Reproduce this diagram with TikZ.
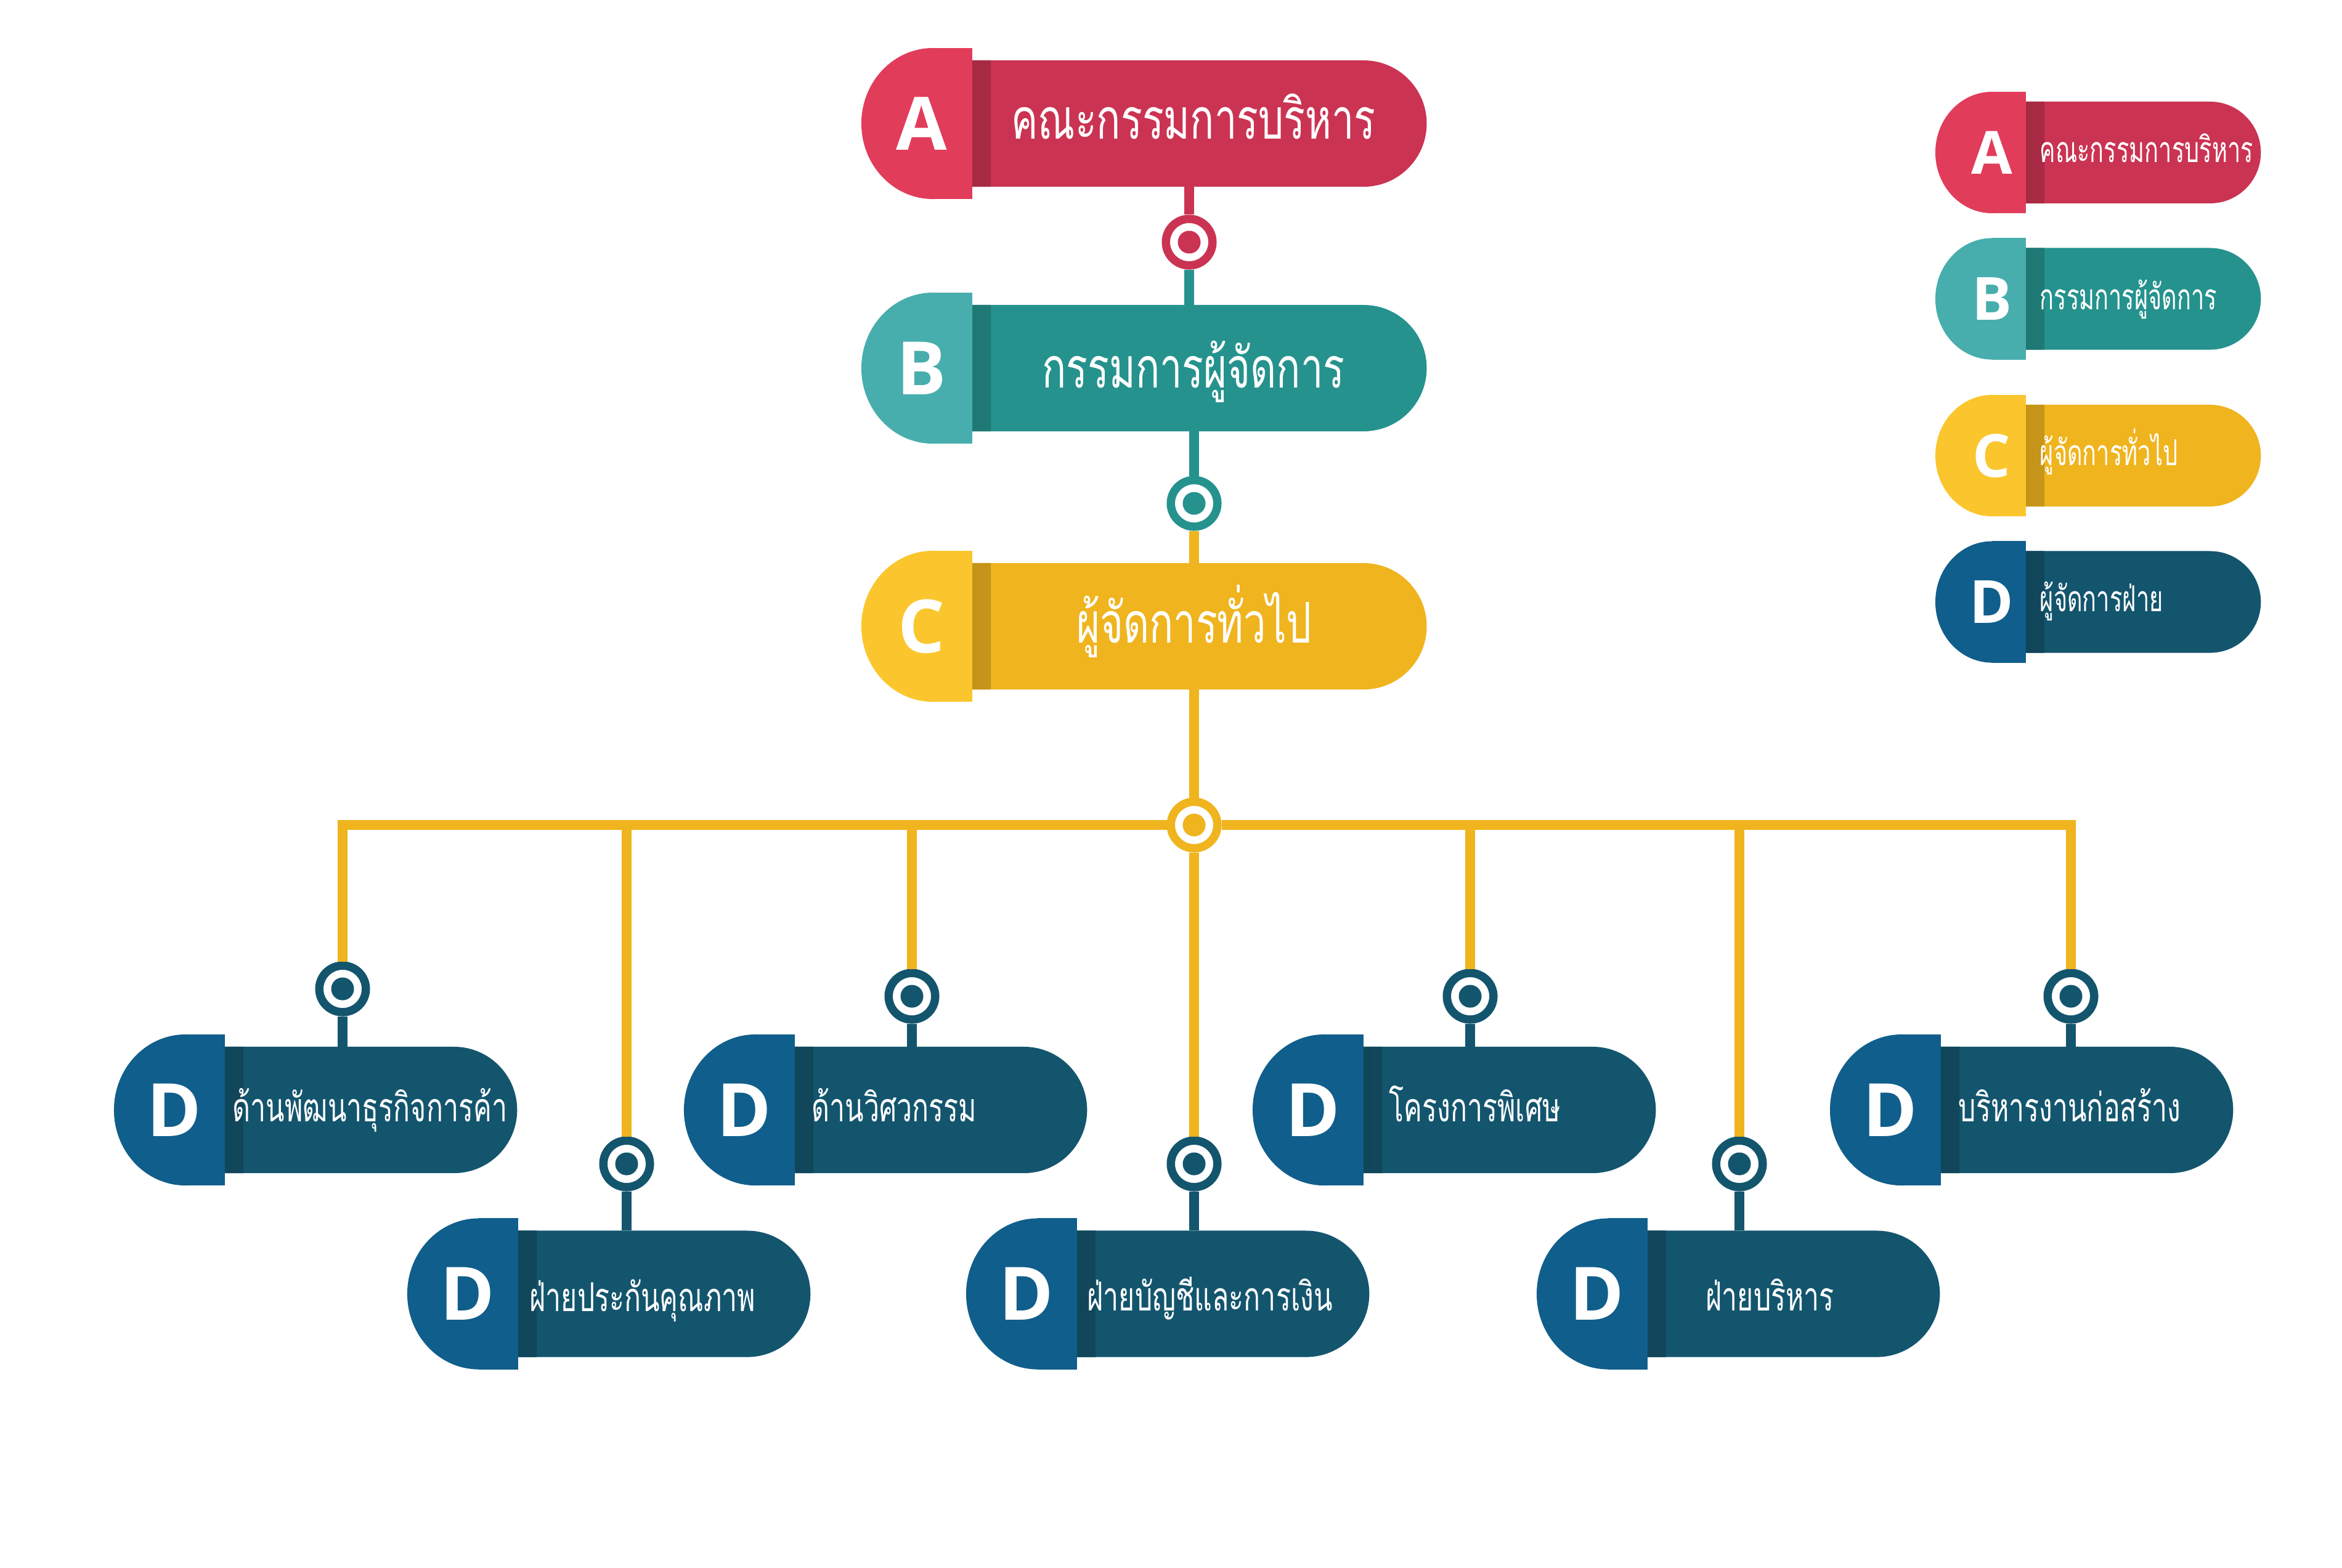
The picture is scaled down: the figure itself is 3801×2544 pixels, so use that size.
\documentclass[tikz,border=0pt]{standalone}
\usepackage{fontspec}
\newfontfamily\thaifont[Script=Thai,FakeStretch=0.71]{Loma}
\newfontfamily\unitfont[Script=Thai,FakeStretch=0.69]{Loma}
\newfontfamily\keyfont[Script=Thai,FakeStretch=0.655]{Loma}
\newfontfamily\capfont{Open Sans}
\usepackage{tikz}
\usetikzlibrary{positioning,shapes.misc}

\definecolor{acap}{HTML}{E23C5B}
\definecolor{abody}{HTML}{CB3352}
\definecolor{bcap}{HTML}{47AEAD}
\definecolor{bbody}{HTML}{25928D}
\definecolor{ccap}{HTML}{FBC62D}
\definecolor{cbody}{HTML}{EFB41E}
\definecolor{dcap}{HTML}{105E8B}
\definecolor{dbody}{HTML}{14556E}

\tikzset{
  cap/.style={rectangle, inner sep=0pt, outer sep=0pt,
    minimum width=1.8cm, minimum height=2.45cm,
    path picture={\fill[#1] ([xshift=1.16cm]path picture bounding box.west)
      ellipse [x radius=1.16cm, y radius=1.225cm];
      \fill[#1] ([xshift=1.16cm]path picture bounding box.south west)
      rectangle (path picture bounding box.north east);}},
  keycap/.style={rectangle, inner sep=0pt, outer sep=0pt,
    minimum width=1.47cm, minimum height=1.97cm,
    path picture={\fill[#1] ([xshift=0.92cm]path picture bounding box.west)
      ellipse [x radius=0.92cm, y radius=0.985cm];
      \fill[#1] ([xshift=0.92cm]path picture bounding box.south west)
      rectangle (path picture bounding box.north east);}},
  capletter/.style={text=white, inner sep=0pt, xshift=0.08cm,
    font=\capfont\bfseries\fontsize{34pt}{34pt}\selectfont},
  keyletter/.style={capletter, xshift=0.1cm,
    font=\capfont\bfseries\fontsize{27.5pt}{27.5pt}\selectfont},
  unit/.style={rounded rectangle, rounded rectangle left arc=none, fill=#1,
    inner sep=0pt, outer sep=0pt, minimum width=4.74cm, minimum height=2.05cm,
    path picture={\shade[left color=#1!82!black, right color=#1]
      (path picture bounding box.south west) rectangle
      ([xshift=0.3cm]path picture bounding box.north west);}},
  bigunit/.style={unit=#1, minimum width=7.37cm},
  keyunit/.style={unit=#1, minimum width=3.81cm, minimum height=1.65cm},
  ring/.style={circle, draw=#1, fill=white, line width=0.135cm,
    minimum size=0.755cm, inner sep=0pt, outer sep=0.0675cm,
    path picture={\fill[#1] (path picture bounding box.center) circle (0.185cm);}},
  link/.style={draw=#1, line width=0.16cm},
  bigtext/.style={anchor=base, text=white, inner sep=0pt,
    font=\thaifont\fontsize{26pt}{26pt}\selectfont},
  unittext/.style={anchor=base west, text=white, inner sep=0pt,
    font=\unitfont\fontsize{18.4pt}{18.4pt}\selectfont},
  keytext/.style={anchor=base west, text=white, inner sep=0pt,
    font=\keyfont\fontsize{16.5pt}{16.5pt}\selectfont},
}

\begin{document}
\begin{tikzpicture}[x=0.01cm,y=-0.01cm]
\useasboundingbox (0,0) rectangle (3801,2544);
% top of the chart
\node[cap=acap, label={[capletter]center:A}] (board-cap) at (1488,200.5) {};
\node[bigunit=abody, right=0pt of board-cap] (board) {};
\node[cap=bcap, label={[capletter]center:B}] (md-cap) at (1488,597.5) {};
\node[bigunit=bbody, right=0pt of md-cap] (md) {};
\node[cap=ccap, label={[capletter]center:C}] (gm-cap) at (1488,1016.5) {};
\node[bigunit=cbody, right=0pt of gm-cap] (gm) {};
\node[bigtext] (board-text) at (1937,225) {คณะกรรมการบริหาร};
\node[bigtext] (md-text) at (1937,629) {กรรมการผู้จัดการ};
\node[bigtext] (gm-text) at (1938,1043) {ผู้จัดการทั่วไป};
% departments, upper row
\node[cap=dcap, label={[capletter]center:D}] (trade-cap) at (275,1801.5) {};
\node[unit=dbody, right=0pt of trade-cap] (trade) {};
\node[cap=dcap, label={[capletter]center:D}] (eng-cap) at (1200,1801.5) {};
\node[unit=dbody, right=0pt of eng-cap] (eng) {};
\node[cap=dcap, label={[capletter]center:D}] (proj-cap) at (2123,1801.5) {};
\node[unit=dbody, right=0pt of proj-cap] (proj) {};
\node[cap=dcap, label={[capletter]center:D}] (build-cap) at (3060,1801.5) {};
\node[unit=dbody, right=0pt of build-cap] (build) {};
% departments, lower row
\node[cap=dcap, label={[capletter]center:D}] (qa-cap) at (751,2100) {};
\node[unit=dbody, right=0pt of qa-cap] (qa) {};
\node[cap=dcap, label={[capletter]center:D}] (acct-cap) at (1658,2100) {};
\node[unit=dbody, right=0pt of acct-cap] (acct) {};
\node[cap=dcap, label={[capletter]center:D}] (admin-cap) at (2584,2100) {};
\node[unit=dbody, right=0pt of admin-cap] (admin) {};
\node[unittext] (trade-text) at (377,1820) {ด้านพัฒนาธุรกิจการค้า};
\node[unittext] (eng-text) at (1317,1820) {ด้านวิศวกรรม};
\node[unittext] (proj-text) at (2254,1820) {โครงการพิเศษ};
\node[unittext] (build-text) at (3178,1820) {บริหารงานก่อสร้าง};
\node[unittext] (qa-text) at (859,2128) {ฝ่ายประกันคุณภาพ};
\node[unittext] (acct-text) at (1764,2127) {ฝ่ายบัญชีและการเงิน};
\node[unittext] (admin-text) at (2768,2127) {ฝ่ายบริหาร};
% key on the right
\node[keycap=acap, label={[keyletter]center:A}] (keya-cap) at (3214.5,247.5) {};
\node[keyunit=abody, right=0pt of keya-cap] (keya) {};
\node[keycap=bcap, label={[keyletter]center:B}] (keyb-cap) at (3214.5,485) {};
\node[keyunit=bbody, right=0pt of keyb-cap] (keyb) {};
\node[keycap=ccap, label={[keyletter]center:C}] (keyc-cap) at (3214.5,739.5) {};
\node[keyunit=cbody, right=0pt of keyc-cap] (keyc) {};
\node[keycap=dcap, label={[keyletter]center:D}] (keyd-cap) at (3214.5,977) {};
\node[keyunit=dbody, right=0pt of keyd-cap] (keyd) {};
\node[keytext] (keya-text) at (3310,263) {คณะกรรมการบริหาร};
\node[keytext] (keyb-text) at (3310,502) {กรรมการผู้จัดการ};
\node[keytext] (keyc-text) at (3310,755) {ผู้จัดการทั่วไป};
\node[keytext] (keyd-text) at (3310,992) {ผู้จัดการฝ่าย};
% rings
\node[ring=abody] (r1) at (1930,393) {};
\node[ring=bbody] (r2) at (1938,817) {};
\node[ring=cbody] (hub) at (1938,1339) {};
\node[ring=dbody] (trade-ring) at (556,1605) {};
\node[ring=dbody] (qa-ring) at (1017,1889) {};
\node[ring=dbody] (eng-ring) at (1480,1617) {};
\node[ring=dbody] (acct-ring) at (1938,1889) {};
\node[ring=dbody] (proj-ring) at (2386,1617) {};
\node[ring=dbody] (admin-ring) at (2823,1889) {};
\node[ring=dbody] (build-ring) at (3361,1617) {};
% connectors
\draw[link=abody] (r1 |- board.south) -- (r1);
\draw[link=bbody] (r1) -- (r1 |- md.north);
\draw[link=bbody] (r2 |- md.south) -- (r2);
\draw[link=cbody] (r2) -- (r2 |- gm.north);
\draw[link=cbody] (hub |- gm.south) -- (hub);
\draw[link=cbody] (hub) -| (trade-ring);
\draw[link=cbody] (hub) -| (qa-ring);
\draw[link=cbody] (hub) -| (eng-ring);
\draw[link=cbody] (hub) -- (acct-ring);
\draw[link=cbody] (hub) -| (proj-ring);
\draw[link=cbody] (hub) -| (admin-ring);
\draw[link=cbody] (hub) -| (build-ring);
\draw[link=dbody] (trade-ring) -- (trade-ring |- trade.north);
\draw[link=dbody] (qa-ring) -- (qa-ring |- qa.north);
\draw[link=dbody] (eng-ring) -- (eng-ring |- eng.north);
\draw[link=dbody] (acct-ring) -- (acct-ring |- acct.north);
\draw[link=dbody] (proj-ring) -- (proj-ring |- proj.north);
\draw[link=dbody] (admin-ring) -- (admin-ring |- admin.north);
\draw[link=dbody] (build-ring) -- (build-ring |- build.north);
\end{tikzpicture}
\end{document}
